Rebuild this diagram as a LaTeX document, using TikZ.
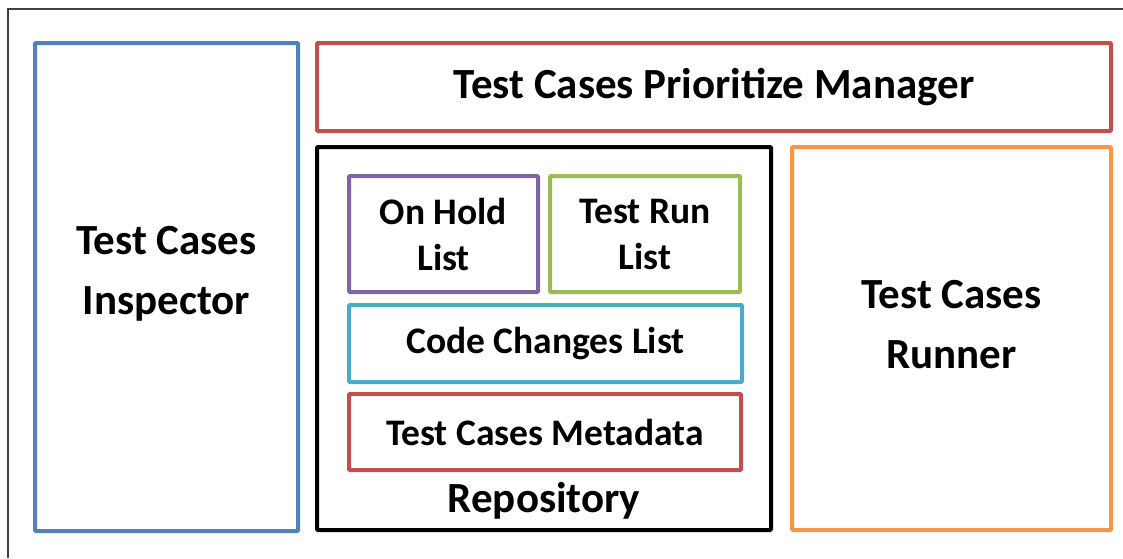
\documentclass[tikz,border=0pt]{standalone}
\usepackage{fontspec}
\setmainfont{Carlito}
\usetikzlibrary{positioning}
\definecolor{inspblue}{HTML}{4F81BD}
\definecolor{mgrred}{HTML}{C0504D}
\definecolor{runorange}{HTML}{F79646}
\definecolor{holdpurple}{HTML}{8064A2}
\definecolor{rungreen}{HTML}{9BBB59}
\definecolor{codecyan}{HTML}{4BACC6}

\begin{document}
\begin{tikzpicture}[x=1pt, y=-1pt, box/.style={draw, line width=4pt, rounded corners=1pt, inner sep=0pt, align=center}, bigtext/.style={align=center, font=\fontsize{43}{60}\selectfont\bfseries}, smalltext/.style={font=\fontsize{37.5}{46}\selectfont\bfseries}]
    \useasboundingbox (0,0) rectangle (1123,558);
    \draw [black!75, line width=1.5pt] (8,558) -- (8,9) -- (1123,9);

    \node [box, inspblue, minimum width=263pt, minimum height=488pt] (insp) at (166.5,287) {};
    \node [bigtext] (insptext) at ([yshift=13pt]insp.center) {Test Cases\\Inspector};

    \node [box, mgrred, minimum width=794pt, minimum height=88pt, text=black, bigtext] (mgr) at (714,87) {Test Cases Prioritize Manager};

    \node [box, black, minimum width=454pt, minimum height=383pt] (repo) at (544,338.5) {};
    \node [bigtext] (repotext) at (544,501) {Repository};

    \node [box, runorange, minimum width=319pt, minimum height=383pt] (runner) at (951.5,338.5) {};
    \node [bigtext] (runnertext) at ([yshift=14pt]runner.center) {Test Cases\\Runner};

    \node [box, holdpurple, minimum width=189pt, minimum height=116pt, text=black, smalltext] (hold) at (443.5,234) {On Hold\\List};
    \node [box, rungreen, minimum width=190pt, minimum height=116pt, text=black, smalltext] (run) at (645,234) {Test Run\\List};
    \node [box, codecyan, minimum width=393pt, minimum height=77pt, text=black, smalltext] (code) at (545.5,343.5) {Code Changes List};
    \node [box, mgrred, minimum width=392pt, minimum height=76pt, text=black, smalltext] (meta) at (545,432) {Test Cases Metadata};
\end{tikzpicture}
\end{document}
